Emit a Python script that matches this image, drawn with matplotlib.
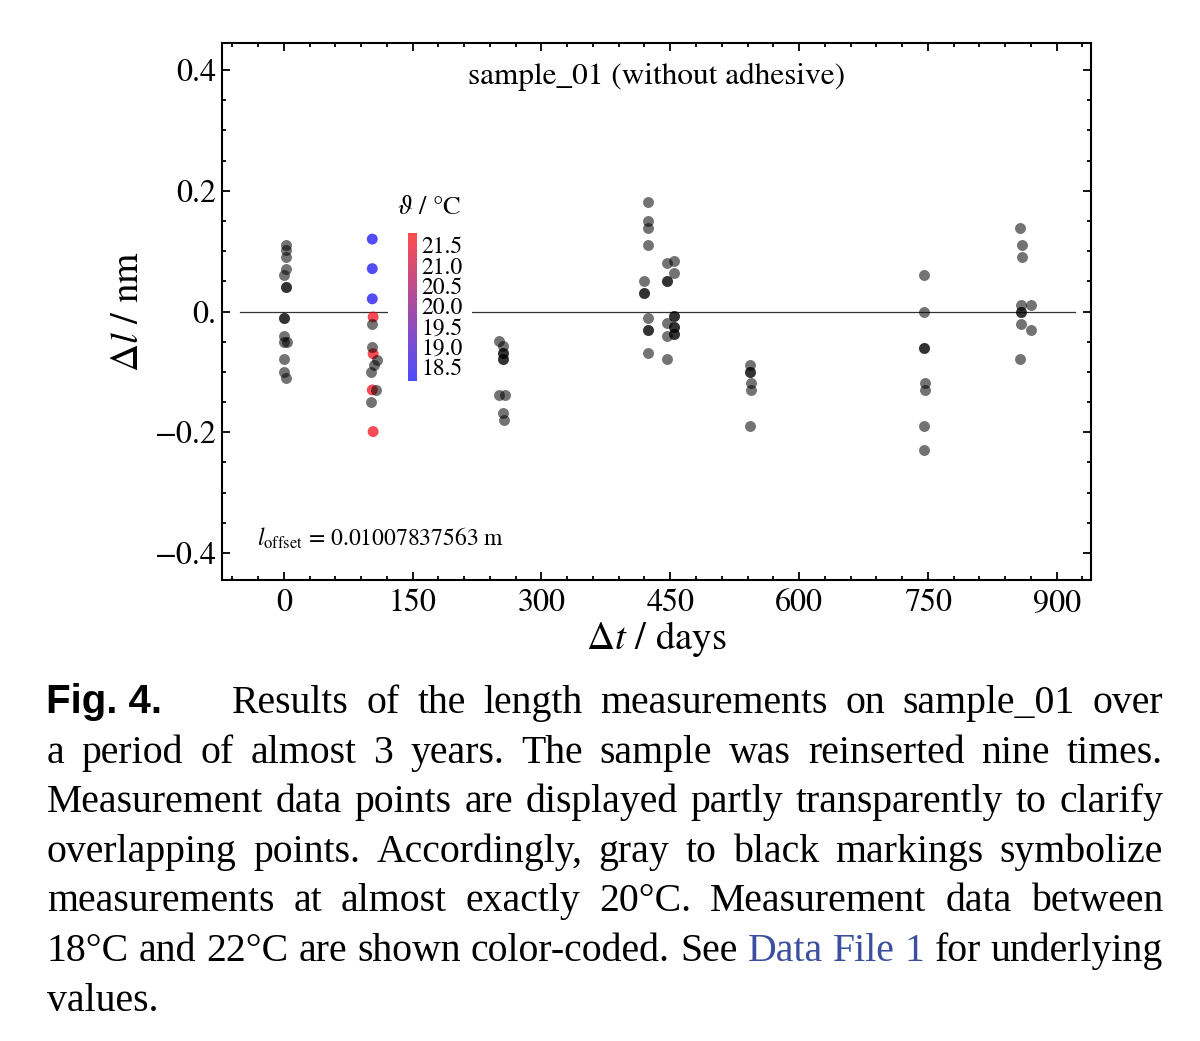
import numpy as np
import matplotlib
matplotlib.use('Agg')
import matplotlib.pyplot as plt
from matplotlib.colors import LinearSegmentedColormap, Normalize
from matplotlib.cm import ScalarMappable
from matplotlib.patches import Rectangle
from matplotlib.ticker import MultipleLocator

plt.rcParams['font.family'] = ['STIXGeneral', 'DejaVu Sans']
plt.rcParams['mathtext.fontset'] = 'stix'

# measurement days (since first insertion), length deviation / nm, temperature / degC
days = [3, 3, 3, 3, 0, 3, 3, 0, 0, 0, 0, 4, 0, 0, 3,
        103, 103, 103, 104, 103, 103, 104, 108, 105, 102, 103, 107, 102, 104,
        251, 255, 255, 255, 255, 255, 251, 257, 255, 256,
        424, 424, 424, 424, 419, 419, 419, 424, 424, 424, 424,
        446, 454, 454, 446, 446, 454, 454, 446, 454, 454, 454, 454, 446, 446,
        543, 543, 543, 544, 544, 543,
        745, 745, 746, 746, 747, 747, 745, 745,
        857, 860, 860, 858, 870, 858, 858, 859, 870, 857]
dl = [0.111, 0.102, 0.090, 0.070, 0.060, 0.041, 0.041, -0.010, -0.010, -0.040, -0.050, -0.050, -0.079, -0.100, -0.110,
      0.120, 0.071, 0.021, -0.009, -0.020, -0.059, -0.070, -0.080, -0.089, -0.100, -0.130, -0.130, -0.150, -0.199,
      -0.049, -0.058, -0.068, -0.068, -0.079, -0.079, -0.139, -0.139, -0.169, -0.180,
      0.181, 0.150, 0.139, 0.110, 0.050, 0.030, 0.030, -0.010, -0.030, -0.030, -0.069,
      0.080, 0.083, 0.063, 0.050, 0.050, -0.007, -0.007, -0.019, -0.026, -0.026, -0.037, -0.037, -0.040, -0.079,
      -0.089, -0.100, -0.100, -0.119, -0.130, -0.190,
      0.060, 0.000, -0.060, -0.060, -0.119, -0.130, -0.190, -0.229,
      0.139, 0.110, 0.090, 0.010, 0.010, 0.000, 0.000, -0.020, -0.030, -0.079]
temp = ([20.0] * 15 +
        [18.3, 18.3, 18.3, 21.6, 20.0, 20.0, 21.6, 20.0, 20.0, 20.0, 21.6, 20.0, 20.0, 21.6] +
        [20.0] * 10 + [20.0] * 11 + [20.0] * 14 + [20.0] * 6 + [20.0] * 8 + [20.0] * 10)

temp_ticks = [18.5, 19.0, 19.5, 20.0, 20.5, 21.0, 21.5]
ytick_vals = [-0.4, -0.2, 0.0, 0.2, 0.4]
ytick_labels = ['\u22120.4', '\u22120.2', '0.', '0.2', '0.4']
xtick_vals = [0, 150, 300, 450, 600, 750, 900]

days = np.array(days)
dl = np.array(dl)
temp = np.array(temp)
gray = np.abs(temp - 20.0) < 0.05

W, H = 1200, 1041
fig = plt.figure(figsize=(W / 100, H / 100), dpi=100)
ax = fig.add_axes([222 / W, 1 - 580 / H, 869 / W, 537 / H])

cmap = LinearSegmentedColormap.from_list('br', ['blue', 'red'])
norm = Normalize(18.15, 21.8)

ax.axhline(0, xmin=0.021, xmax=0.982, color='0.2', lw=0.9, zorder=1)
ax.add_patch(Rectangle((0.191, 0.363), 0.097, 0.354, transform=ax.transAxes,
                       facecolor='white', edgecolor='none', zorder=1.5))
ax.scatter(days[~gray], dl[~gray], c=temp[~gray], cmap=cmap, norm=norm,
           s=62, alpha=0.7, linewidths=0, zorder=2)
ax.scatter(days[gray], dl[gray], color='black', s=62, alpha=0.55,
           linewidths=0, zorder=3)

ax.set_xlim(-72, 940)
ax.set_ylim(-0.445, 0.445)
ax.set_xticks(xtick_vals)
ax.set_yticks(ytick_vals, ytick_labels)
ax.xaxis.set_minor_locator(MultipleLocator(30))
ax.yaxis.set_minor_locator(MultipleLocator(0.05))
ax.tick_params(which='both', direction='in', top=True, right=True, width=1.3)
ax.tick_params(which='major', length=6, labelsize=23)
ax.tick_params(axis='x', which='major', pad=6)
ax.tick_params(axis='y', which='major', pad=4)
ax.tick_params(which='minor', length=3.2)
for s in ax.spines.values():
    s.set_linewidth(1.5)

ax.set_xlabel(r'$\Delta t$ / days', fontsize=28)
ax.xaxis.set_label_coords(0.5, -0.072)
ax.set_ylabel(r'$\Delta l$ / nm', fontsize=28)
ax.yaxis.set_label_coords(-0.087, 0.5)

ax.text(0.5, 0.937, 'sample_01 (without adhesive)', fontsize=22.5,
        ha='center', va='center', transform=ax.transAxes)
ax.text(0.040, 0.078, r'$l_{\mathrm{offset}}$ = 0.01007837563 m', fontsize=17,
        va='center', transform=ax.transAxes)

# colour bar for the temperature
cax = ax.inset_axes([0.214, 0.3706, 0.0104, 0.2756])
sm = ScalarMappable(norm=norm, cmap=cmap)
cb = fig.colorbar(sm, cax=cax, ticks=temp_ticks, alpha=0.7)
cb.outline.set_visible(False)
cb.ax.tick_params(length=0, pad=3, labelsize=17)
cb.ax.set_yticklabels(['%.1f' % t for t in temp_ticks])
ax.text(0.239, 0.693, r'$\vartheta$ / °C', fontsize=19, ha='center',
        va='center', transform=ax.transAxes)

# caption below the chart, justified
renderer = fig.canvas.get_renderer()
serif = 'Liberation Serif'
blue = '#3c4f9e'
lines = [
    ('Results of the length measurements on sample_01 over', 232, None),
    ('a period of almost 3 years. The sample was reinserted nine times.', 47, None),
    ('Measurement data points are displayed partly transparently to clarify', 47, None),
    ('overlapping points. Accordingly, gray to black markings symbolize', 47, None),
    ('measurements at almost exactly 20°C. Measurement data between', 47, None),
    ('18°C and 22°C are shown color-coded. See Data File 1 for underlying', 47, (7, 10)),
]
last_line = 'values.'
baselines = [713, 762.6, 812.2, 861.8, 911.4, 961, 1010.6]
x_right = 1163


def fx(px):
    return px / W


def fy(py):
    return 1 - py / H


def word_widths(words, fs):
    arts = [fig.text(0, 0, w, fontsize=fs, family=serif) for w in words]
    ws = [a.get_window_extent(renderer).width for a in arts]
    for a in arts:
        a.remove()
    return ws


ref_fs = 20
scale = []
for text, x0, _ in lines:
    words = text.split()
    ws = word_widths(words, ref_fs)
    natural = sum(ws) + (len(words) - 1) * ref_fs * 100 / 72 * 0.25
    scale.append((x_right - x0) / natural)
cap_fs = ref_fs * min(scale)

for (text, x0, hl), yb in zip(lines, baselines):
    words = text.split()
    ws = word_widths(words, cap_fs)
    gap = (x_right - x0 - sum(ws)) / (len(words) - 1)
    x = x0
    for i, (w, wd) in enumerate(zip(words, ws)):
        col = blue if hl and hl[0] <= i < hl[1] else 'black'
        fig.text(fx(x), fy(yb), w, fontsize=cap_fs, family=serif,
                 color=col, va='baseline')
        x += wd + gap
fig.text(fx(47), fy(baselines[-1]), last_line, fontsize=cap_fs, family=serif,
         va='baseline')
fig.text(fx(46), fy(baselines[0]), 'Fig. 4.', fontsize=29,
         family=['Liberation Sans', 'DejaVu Sans'], weight='bold', va='baseline')

fig.savefig('out.png', dpi=100, facecolor='white')
